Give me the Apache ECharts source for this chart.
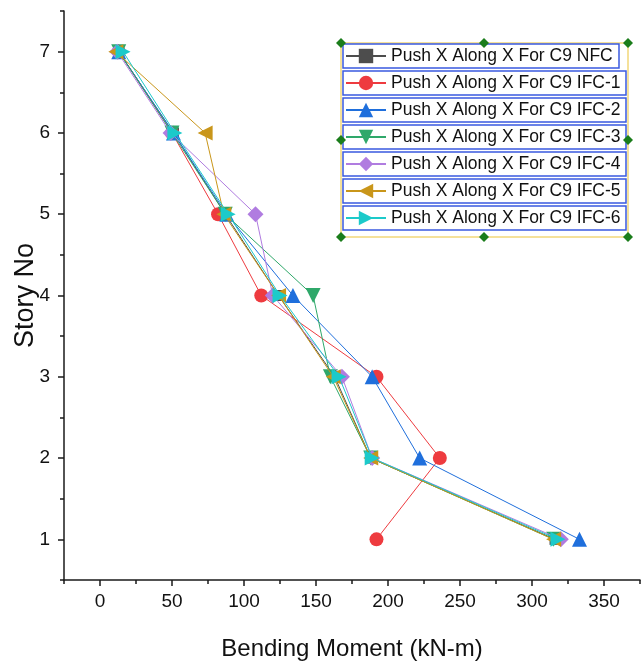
<!DOCTYPE html>
<html><head><meta charset="utf-8">
<script src="https://cdn.jsdelivr.net/npm/echarts@6/dist/echarts.min.js"></script>
<style>html,body{margin:0;padding:0;background:#fff}#c{width:641px;height:669px}</style>
</head><body><div id="c"></div>
<script>
const stories = [7, 6, 5, 4, 3, 2, 1];
const seriesNames = [
  'Push X Along X For C9 NFC',
  'Push X Along X For C9 IFC-1',
  'Push X Along X For C9 IFC-2',
  'Push X Along X For C9 IFC-3',
  'Push X Along X For C9 IFC-4',
  'Push X Along X For C9 IFC-5',
  'Push X Along X For C9 IFC-6'
];
const nfc  = [13, 51, 87, 124, 163, 188, 316];
const ifc1 = [13, 50, 82, 112, 192, 236, 192];
const ifc2 = [13, 51, 88, 134, 189, 222, 333];
const ifc3 = [13, 50, 87, 148, 160, 188, 315];
const ifc4 = [12, 49, 108, 120, 168, 189, 320];
const ifc5 = [11, 73, 86, 124, 162, 188, 315];
const ifc6 = [16, 52, 89, 125, 166, 189, 318];
const xTicks = [0, 50, 100, 150, 200, 250, 300, 350];
const xMinor = [-25, 25, 75, 125, 175, 225, 275, 325, 375];
const yTicks = [1, 2, 3, 4, 5, 6, 7];
const yMinor = [0.5, 1.5, 2.5, 3.5, 4.5, 5.5, 6.5, 7.5];

const allData = [nfc, ifc1, ifc2, ifc3, ifc4, ifc5, ifc6];
const colors = ['#4d4d4d', '#ee3b3f', '#1f6fdc', '#2fa86a', '#b07ce0', '#c9961a', '#1ccaca'];
const symbols = ['rect', 'circle', 'triangle', 'triangle', 'diamond', 'triangle', 'triangle'];
const rotates = [0, 0, 0, 180, 0, 90, -90];
const sizes = [11, 14, 15, 15, 16, 15, 15];

const chart = echarts.init(document.getElementById('c'));
const font = 'Liberation Sans, Arial, sans-serif';
const axisCol = '#1a1a1a';

const series = allData.map((d, i) => ({
  name: seriesNames[i],
  type: 'line',
  xAxisIndex: 0, yAxisIndex: 0,
  data: d.map((v, k) => [v, stories[k]]),
  symbol: symbols[i],
  symbolRotate: rotates[i],
  symbolSize: sizes[i],
  itemStyle: { color: colors[i] },
  lineStyle: { color: colors[i], width: 1 },
  z: 2 + i
}));

const boxes = [];
const rowY = [56, 83, 110, 137, 164, 191, 218];
rowY.forEach((y, i) => {
  boxes.push({ type: 'rect', shape: { x: 343, y: y - 12, width: i === 0 ? 276 : 283, height: 24 },
    style: { fill: 'none', stroke: '#3a5ae0', lineWidth: 1.5 }, z: 20 });
});
boxes.push({ type: 'rect', shape: { x: 341, y: 43, width: 287, height: 194 },
  style: { fill: 'none', stroke: '#f2d77a', lineWidth: 1.5 }, z: 19 });
[[341,43],[484,43],[628,43],[341,140],[628,140],[341,237],[484,237],[628,237]].forEach(p => {
  boxes.push({ type: 'polygon', shape: { points: [[p[0], p[1]-5],[p[0]+5, p[1]],[p[0], p[1]+5],[p[0]-5, p[1]]] },
    style: { fill: '#1b7d1b' }, z: 21 });
});

chart.setOption({
  animation: false,
  backgroundColor: '#fff',
  grid: { left: 64, right: 1, top: 11, bottom: 89, containLabel: false, outerBoundsMode: 'none' },
  xAxis: [{
    type: 'value', min: -25, max: 375,
    name: 'Bending Moment (kN-m)', nameLocation: 'middle', nameGap: 57, nameMoveOverlap: false,
    nameTextStyle: { fontFamily: font, fontSize: 24, color: '#111' },
    axisLine: { onZero: false, lineStyle: { color: axisCol, width: 1.5 } },
    axisTick: { show: true, length: 6, inside: false, customValues: xTicks, lineStyle: { color: axisCol, width: 1.5 } },
    axisLabel: { customValues: xTicks, fontFamily: font, fontSize: 19, color: '#111', margin: 12 },
    splitLine: { show: false }
  }, {
    type: 'value', min: -25, max: 375, position: 'bottom',
    axisLine: { show: false, onZero: false },
    axisTick: { show: true, length: 4, customValues: xMinor, lineStyle: { color: axisCol, width: 1.5 } },
    axisLabel: { show: false }, splitLine: { show: false }
  }],
  yAxis: [{
    type: 'value', min: 0.5, max: 7.5,
    name: 'Story No', nameLocation: 'middle', nameGap: 25, nameRotate: 90, nameMoveOverlap: false,
    nameTextStyle: { fontFamily: font, fontSize: 27, color: '#111' },
    axisLine: { show: true, onZero: false, lineStyle: { color: axisCol, width: 1.5 } },
    axisTick: { show: true, length: 6, customValues: yTicks, lineStyle: { color: axisCol, width: 1.5 } },
    axisLabel: { customValues: yTicks, fontFamily: font, fontSize: 19, color: '#111', margin: 14 },
    splitLine: { show: false }
  }, {
    type: 'value', min: 0.5, max: 7.5, position: 'left',
    axisLine: { show: false, onZero: false },
    axisTick: { show: true, length: 4, customValues: yMinor, lineStyle: { color: axisCol, width: 1.5 } },
    axisLabel: { show: false }, splitLine: { show: false }
  }],
  legend: {
    orient: 'vertical', left: 345, top: 47, padding: 0,
    itemWidth: 40, itemHeight: 18, itemGap: 9,
    textStyle: { fontFamily: font, fontSize: 17.5, color: '#111' },
    data: seriesNames
  },
  graphic: boxes,
  series: series
});
</script></body></html>
